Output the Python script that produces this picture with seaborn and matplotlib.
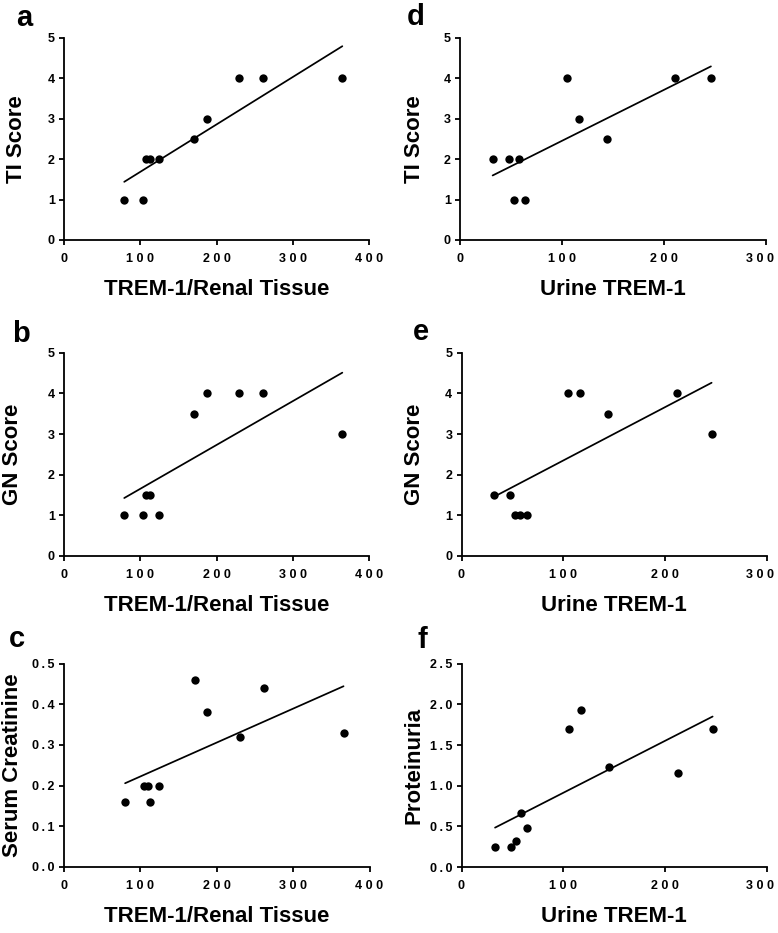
import matplotlib
matplotlib.use('Agg')
import matplotlib.pyplot as plt
import matplotlib.transforms as mtransforms
import seaborn as sns

sns.set_style('ticks')
plt.rcParams['font.family'] = ['Liberation Sans', 'DejaVu Sans']
plt.rcParams['font.weight'] = 'bold'
plt.rcParams['text.color'] = 'black'
plt.rcParams['axes.labelcolor'] = 'black'
plt.rcParams['xtick.color'] = 'black'
plt.rcParams['ytick.color'] = 'black'
plt.rcParams['axes.edgecolor'] = 'black'

# values
renal_a = [79, 104, 107, 113, 124, 170, 187, 229, 261, 365]
ti_a = [1, 1, 2, 2, 2, 2.5, 3, 4, 4, 4]

renal_b = [79, 104, 108, 113, 124, 170, 187, 229, 261, 365]
gn_b = [1, 1, 1.5, 1.5, 1, 3.5, 4, 4, 4, 3]

renal_c = [80, 105, 110, 113, 125, 172, 187, 231, 262, 366]
creat_c = [0.16, 0.20, 0.20, 0.16, 0.20, 0.46, 0.38, 0.32, 0.44, 0.33]

urine_d = [32, 48, 53, 58, 64, 105, 117, 144, 211, 246]
ti_d = [2, 2, 1, 2, 1, 4, 3, 2.5, 4, 4]

urine_e = [32, 48, 52.5, 58, 64, 105, 117, 144, 211.5, 246]
gn_e = [1.5, 1.5, 1, 1, 1, 4, 4, 3.5, 4, 3]

urine_f = [33, 49, 54, 59, 64, 106, 118, 145, 213, 247]
prot_f = [0.25, 0.25, 0.32, 0.66, 0.48, 1.70, 1.93, 1.23, 1.16, 1.70]

W, H = 778, 933
fig = plt.figure(figsize=(W / 100, H / 100), dpi=100)


def px_axes(left, right, top, bottom):
    return fig.add_axes([left / W, (H - bottom) / H, (right - left) / W, (bottom - top) / H])


def spaced(s, sep):
    return sep.join(s)


panels = [
    # letter, x, y, xlabel, ylabel, xmax, ymax, yticks, ytick labels, box (l, r, t, b), letter pos, ylabel x
    ('a', renal_a, ti_a, 'TREM-1/Renal Tissue', 'TI Score', 400, 5,
     [0, 1, 2, 3, 4, 5], ['0', '1', '2', '3', '4', '5'], (64, 369, 37.7, 240), (16, 26), -0.157),
    ('b', renal_b, gn_b, 'TREM-1/Renal Tissue', 'GN Score', 400, 5,
     [0, 1, 2, 3, 4, 5], ['0', '1', '2', '3', '4', '5'], (64, 369, 352.7, 556), (12, 342), -0.17),
    ('c', renal_c, creat_c, 'TREM-1/Renal Tissue', 'Serum Creatinine', 400, 0.5,
     [0, 0.1, 0.2, 0.3, 0.4, 0.5], ['0.0', '0.1', '0.2', '0.3', '0.4', '0.5'],
     (64, 369.5, 663.7, 866.7), (9, 647), -0.17),
    ('d', urine_d, ti_d, 'Urine TREM-1', 'TI Score', 300, 5,
     [0, 1, 2, 3, 4, 5], ['0', '1', '2', '3', '4', '5'], (460, 766, 37.7, 240), (407, 25), -0.15),
    ('e', urine_e, gn_e, 'Urine TREM-1', 'GN Score', 300, 5,
     [0, 1, 2, 3, 4, 5], ['0', '1', '2', '3', '4', '5'], (461.5, 766.5, 352.7, 556), (413, 340), -0.153),
    ('f', urine_f, prot_f, 'Urine TREM-1', 'Proteinuria', 300, 2.5,
     [0, 0.5, 1.0, 1.5, 2.0, 2.5], ['0.0', '0.5', '1.0', '1.5', '2.0', '2.5'],
     (461.5, 766.5, 663.7, 867), (418, 648), -0.155),
]

for letter, xs, ys, xlab, ylab, xmax, ymax, yt, ytl, box, lpos, ylx in panels:
    ax = px_axes(*box)
    sns.regplot(x=xs, y=ys, ax=ax, ci=None, truncate=True, color='black',
                scatter_kws={'s': 36, 'linewidths': 0, 'alpha': 1, 'clip_on': False},
                line_kws={'linewidth': 1.25})
    ax.set_xlim(0, xmax)
    ax.set_ylim(0, ymax)
    xt = list(range(0, xmax + 1, 100))
    ax.set_xticks(xt)
    ax.set_xticklabels([spaced(str(v), ' ') for v in xt])
    ax.set_yticks(yt)
    ax.set_yticklabels([spaced(s, '\u2009') for s in ytl])
    for side in ['top', 'right']:
        ax.spines[side].set_visible(False)
    for side in ['left', 'bottom']:
        ax.spines[side].set_linewidth(1.3)
    ax.tick_params(axis='x', length=3.6, width=1.3, pad=6, labelsize=9, color='black')
    ax.tick_params(axis='y', length=3.6, width=1.3, pad=3, labelsize=9, color='black')
    for t in ax.get_xticklabels() + ax.get_yticklabels():
        t.set_fontweight('bold')
    if xmax == 300:
        # last label sits at the page edge, nudge it in
        last = ax.get_xticklabels()[-1]
        last.set_transform(last.get_transform() +
                           mtransforms.ScaledTranslation(-0.06, 0, fig.dpi_scale_trans))
    ax.set_xlabel(xlab, fontsize=16, fontweight='bold', va='center')
    ax.set_ylabel(ylab, fontsize=16, fontweight='bold', va='center')
    ax.xaxis.set_label_coords(0.5, -0.245)
    ax.yaxis.set_label_coords(ylx, 0.5)
    fig.text(lpos[0] / W, 1 - lpos[1] / H, letter, fontsize=21, fontweight='bold',
             ha='left', va='baseline')

fig.savefig('out.png', dpi=100)
